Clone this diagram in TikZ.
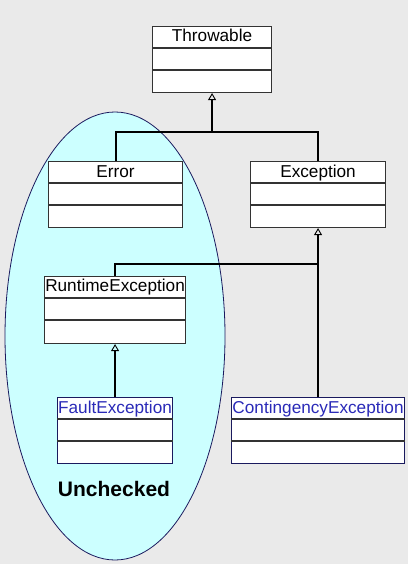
\documentclass[tikz,border=0pt]{standalone}
\usepackage{fontspec}
\setmainfont{Liberation Sans}
\usetikzlibrary{arrows.meta,calc,shapes.geometric}
\definecolor{bg}{HTML}{EAEAEA}
\definecolor{cyanfill}{HTML}{CCFFFF}
\definecolor{navy}{HTML}{1A1A5E}
\definecolor{bluetext}{HTML}{2A2AB8}
\definecolor{boxline}{HTML}{333333}
\begin{document}
\begin{tikzpicture}[x=1pt,y=-1pt,
  classbox/.style={draw=boxline, fill=white, line width=1.1pt, inner sep=0pt, anchor=north west, minimum height=66pt},
  bluebox/.style={classbox, draw=navy},
  divider/.style={draw=boxline, line width=1.1pt},
  titletext/.style={font=\fontsize{17.2}{17}\selectfont, inner sep=0pt, anchor=base},
  bluetitle/.style={titletext, text=bluetext},
  conn/.style={draw=black, line width=1.3pt},
  mainconn/.style={draw=black, line width=2pt},
  inherit/.style={draw=black, line width=1.3pt, -{Triangle[open,width=8pt,length=7pt,line width=0.9pt]}},
]
\useasboundingbox (0,0) rectangle (408,564);
\fill[bg] (0,0) rectangle (408,564);
\node[draw=navy, fill=cyanfill, line width=0.8pt, ellipse, minimum width=220pt, minimum height=448pt, inner sep=0pt] (unchecked) at (115,336) {};

% class boxes
\node[classbox, minimum width=119pt] (thr) at (152,26) {};
\node[classbox, minimum width=134pt] (err) at (48,161) {};
\node[classbox, minimum width=135pt] (exc) at (250,161) {};
\node[classbox, minimum width=141pt, minimum height=67pt] (rte) at (44,276) {};
\node[bluebox, minimum width=115pt] (flt) at (57,397) {};
\node[bluebox, minimum width=173pt] (con) at (231,397) {};

\foreach \b in {thr,err,exc,rte,flt,con} {
  \draw[divider] ($(\b.north west)+(0,22)$) -- ($(\b.north east)+(0,22)$);
  \draw[divider] ($(\b.north west)+(0,44)$) -- ($(\b.north east)+(0,44)$);
}

\node[titletext] (thrt) at ($(thr.north)+(0,15.7)$) {Throwable};
\node[titletext] (errt) at ($(err.north)+(0,16)$) {Error};
\node[titletext] (exct) at ($(exc.north)+(0,16)$) {Exception};
\node[titletext] (rtet) at ($(rte.north)+(0,15.7)$) {RuntimeException};
\node[bluetitle] (fltt) at ($(flt.north)+(0,16)$) {FaultException};
\node[bluetitle] (cont) at ($(con.north)+(0,16)$) {ContingencyException};

\node[font=\fontsize{21}{21}\selectfont\bfseries, inner sep=0pt, anchor=base] (uncl) at (114,496.7) {Unchecked};

% connectors
\coordinate (bar1) at ($(thr.south)+(0,39)$);
\draw[mainconn] (err.north) |- (bar1) -| (exc.north);
\draw[inherit, line width=2pt] (bar1) -- (thr.south);

\coordinate (bar2) at ($(exc.south)+(0,36)$);
\draw[conn] (rte.north) |- (bar2);
\draw[conn] (con.north) -- (bar2);
\draw[inherit] (bar2) -- (exc.south);

\draw[inherit] (flt.north) -- (rte.south);
\end{tikzpicture}
\end{document}
